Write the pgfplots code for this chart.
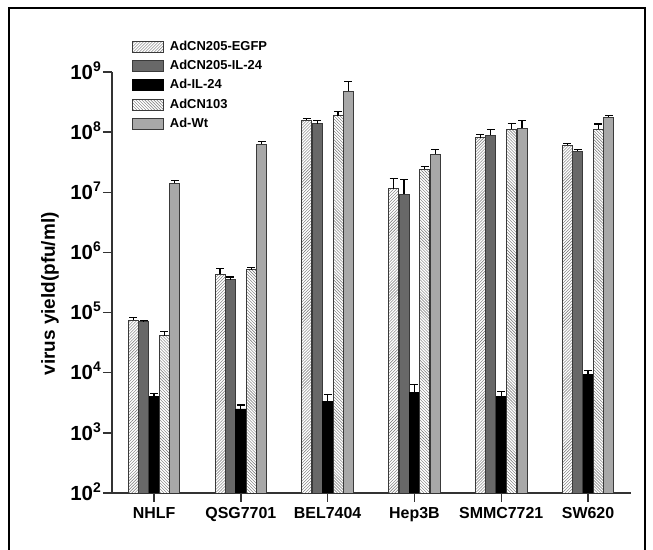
\documentclass[border=0pt]{standalone}
\usepackage{pgfplots}
\pgfplotsset{compat=1.18}
\usepackage{fontspec}
\setmainfont{Liberation Sans}
\usetikzlibrary{patterns}
\definecolor{edge}{HTML}{3A3A3A}
\definecolor{axcol}{HTML}{333333}
\definecolor{patcol}{HTML}{707070}
\definecolor{dkgray}{HTML}{686868}
\definecolor{ltgray}{HTML}{A8A8A8}
\newcommand{\pw}[1]{10\raisebox{8bp}{\fontsize{14}{14}\selectfont #1}}
\begin{document}
\begin{tikzpicture}
\begin{axis}[
  at={(0,0)}, anchor=south west,
  scale only axis, width=519bp, height=421bp,
  ymode=log, log origin=infty, ymin=1e2, ymax=1e9,
  xmin=-0.484, xmax=5.495,
  ybar=0.4bp, bar width=10bp,
  axis x line*=bottom, axis y line*=left,
  axis line style={draw=axcol, line width=1.4bp, -},
  xtick={0,1,2,3,4,5},
  xticklabels={NHLF,QSG7701,BEL7404,Hep3B,SMMC7721,SW620},
  ytick={1e2,1e3,1e4,1e5,1e6,1e7,1e8,1e9},
  yticklabels={\pw{2},\pw{3},\pw{4},\pw{5},\pw{6},\pw{7},\pw{8},\pw{9}},
  yminorticks=false, xminorticks=false,
  tick align=outside, major tick length=9bp,
  tick style={draw=axcol, line width=1.4bp},
  xticklabel style={font=\fontsize{16}{18}\selectfont\bfseries, inner sep=0pt, anchor=north, yshift=-5bp},
  yticklabel style={font=\fontsize{20.5}{22}\selectfont\bfseries, inner sep=2bp, anchor=base east, yshift=-7.2bp},
  ylabel={virus yield(pfu/ml)},
  every axis y label/.style={at={(axis description cs:-0.1195,0.473)}, rotate=90, anchor=center, font=\fontsize{19}{21}\selectfont\bfseries},
  legend image code/.code={\draw[#1] (0bp,-5.5bp) rectangle (31bp,5.5bp);},
  legend style={draw=none, fill=none, inner sep=0pt, column sep=6bp, row sep=7.5bp,
    at={(0.0385,1.0748)}, anchor=north west,
    nodes={inner sep=0pt, text height=9bp, text depth=2bp, font=\fontsize{13}{15}\selectfont\bfseries}},
  legend cell align=left,
  error bars/error bar style={line width=1.2bp, draw=black},
  error bars/error mark=-,
  error bars/error mark options={rotate=90, line width=1.2bp, mark size=4bp, draw=black},
]
\addplot[fill=white, draw=edge, line width=0.8bp, postaction={pattern=north east lines, pattern color=patcol},
  error bars/.cd, y dir=plus, y explicit]
  coordinates {(0,7.4e4) +- (0,9e3) (1,4.3e5) +- (0,1.1e5) (2,1.58e8) +- (0,1.2e7) (3,1.15e7) +- (0,5.5e6) (4,8.1e7) +- (0,1.0e7) (5,6.0e7) +- (0,4e6)};
\addplot[fill=dkgray, draw=edge, line width=0.8bp,
  error bars/.cd, y dir=plus, y explicit]
  coordinates {(0,7.0e4) +- (0,3e3) (1,3.5e5) +- (0,4e4) (2,1.38e8) +- (0,1.9e7) (3,9.3e6) +- (0,7.2e6) (4,8.9e7) +- (0,2.1e7) (5,4.8e7) +- (0,4e6)};
\addplot[fill=black, draw=black, line width=0.8bp,
  error bars/.cd, y dir=plus, y explicit]
  coordinates {(0,4.0e3) +- (0,5e2) (1,2.5e3) +- (0,4e2) (2,3.3e3) +- (0,1.0e3) (3,4.7e3) +- (0,1.7e3) (4,4.0e3) +- (0,8e2) (5,9.5e3) +- (0,1.5e3)};
\addplot[fill=white, draw=edge, line width=0.8bp, postaction={pattern=north west lines, pattern color=patcol},
  error bars/.cd, y dir=plus, y explicit]
  coordinates {(0,4.1e4) +- (0,8e3) (1,5.2e5) +- (0,4e4) (2,1.88e8) +- (0,3.2e7) (3,2.4e7) +- (0,3e6) (4,1.12e8) +- (0,2.6e7) (5,1.12e8) +- (0,2.5e7)};
\addplot[fill=ltgray, draw=edge, line width=0.8bp,
  error bars/.cd, y dir=plus, y explicit]
  coordinates {(0,1.4e7) +- (0,1.5e6) (1,6.3e7) +- (0,7e6) (2,4.8e8) +- (0,2.1e8) (3,4.3e7) +- (0,9e6) (4,1.17e8) +- (0,4.1e7) (5,1.78e8) +- (0,1.2e7)};
\legend{AdCN205-EGFP,AdCN205-IL-24,Ad-IL-24,AdCN103,Ad-Wt}
\end{axis}
\draw[line width=1.8bp, black] (-103bp,-57bp) -- (-103bp,485bp) -- (533bp,485bp) -- (533bp,-57bp);
\pgfresetboundingbox
\path[use as bounding box] (-112bp,-57bp) rectangle (541bp,493bp);
\end{tikzpicture}
\end{document}
